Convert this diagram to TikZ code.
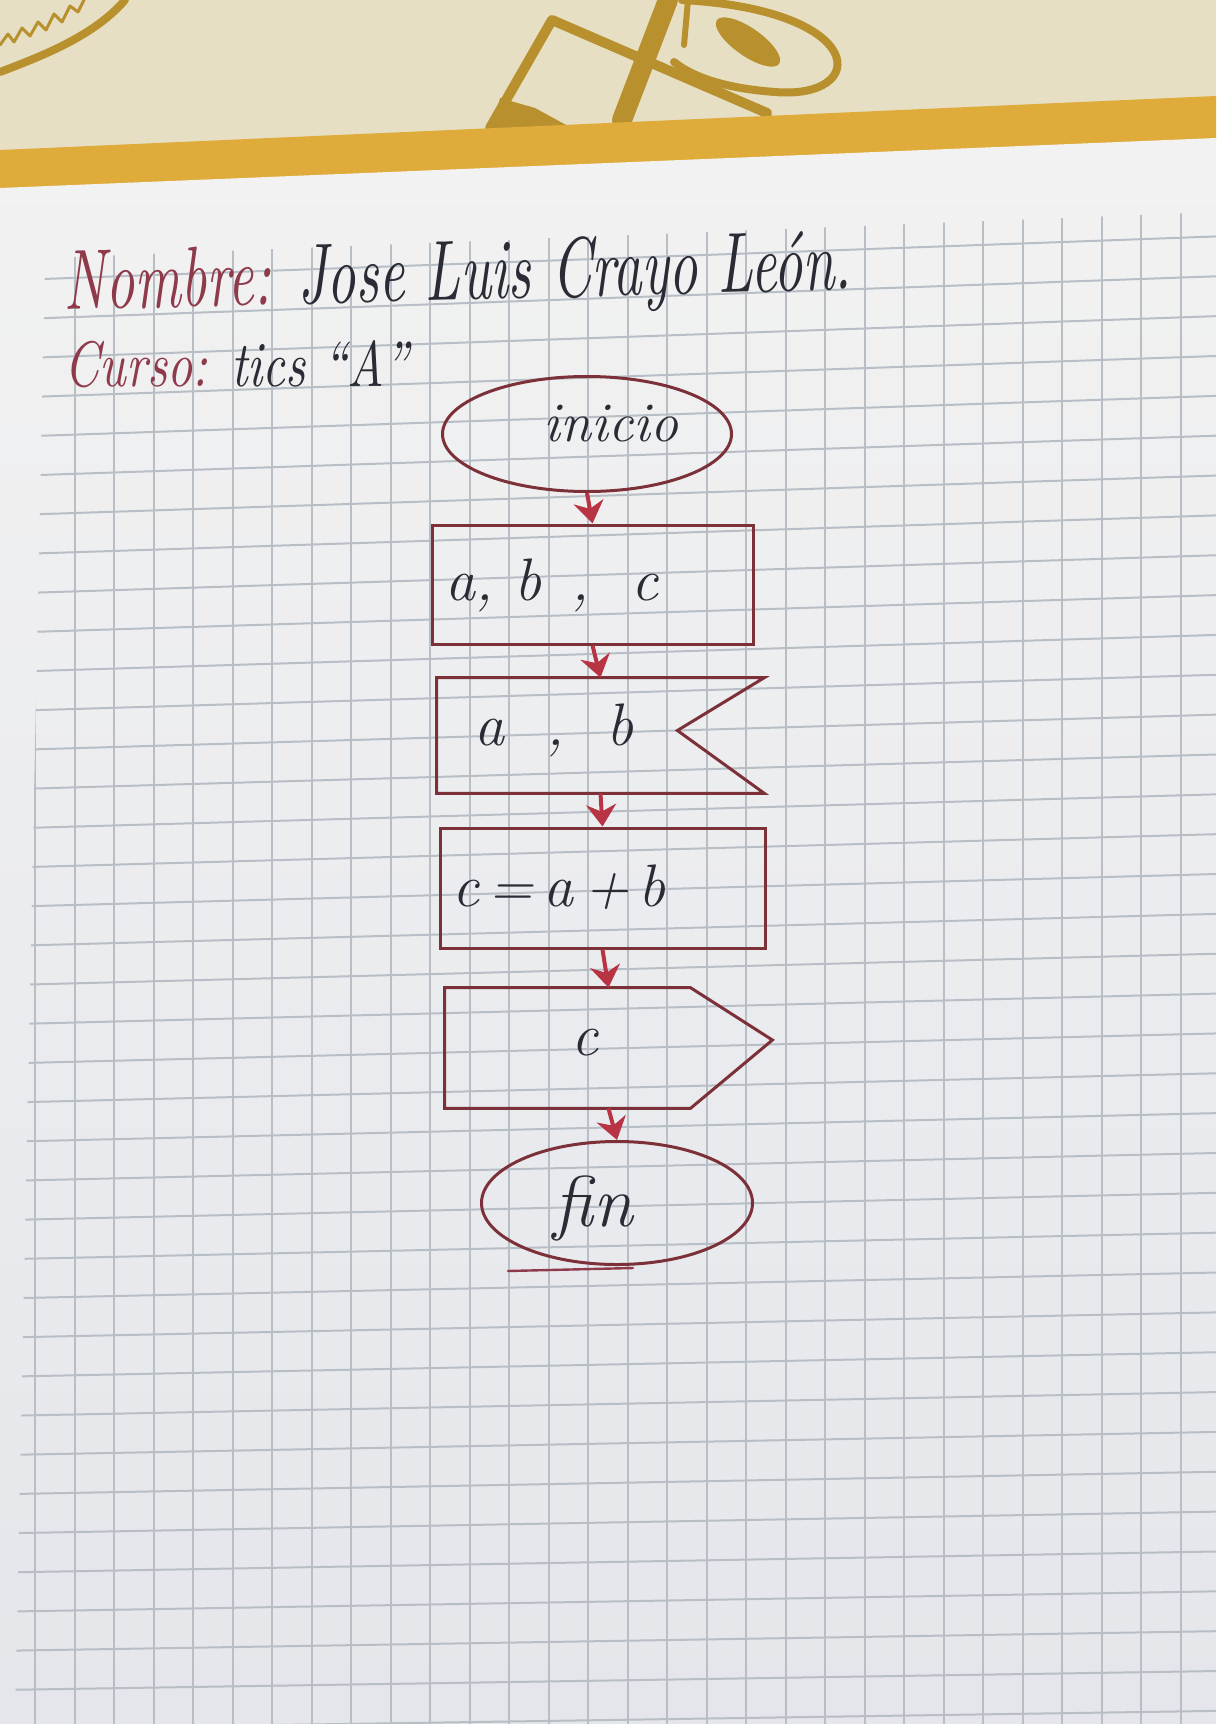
\documentclass[tikz,border=0pt]{standalone}
\usetikzlibrary{shapes.geometric,arrows.meta,calc}
\definecolor{cloth}{HTML}{E6DFC3}
\definecolor{band}{HTML}{DFAB3B}
\definecolor{gold}{HTML}{B8912E}
\definecolor{paperlow}{HTML}{E4E6EB}
\definecolor{papertop}{HTML}{F2F2F2}
\definecolor{gridc}{HTML}{B7BEC6}
\definecolor{ink}{HTML}{7C3038}
\definecolor{arrowc}{HTML}{B83444}
\definecolor{pen}{HTML}{2B2B36}
\definecolor{redpen}{HTML}{8E3A4A}
\begin{document}
\begin{tikzpicture}[x=0.5pt,y=-0.5pt,
  shapeline/.style={draw=ink, line width=1.5pt},
  flowarrow/.style={draw=arrowc, line width=2pt, -{Stealth[length=11pt,width=15pt]}},
  gridline/.style={draw=gridc, line width=1pt},
  goldline/.style={draw=gold, line cap=round, line join=round},
  handtext/.style={text=pen, font=\itshape\fontsize{30}{32}\selectfont, inner sep=0pt},
  headtext/.style={inner sep=0pt, anchor=base west, font=\itshape},
  emptybox/.style={minimum width=#1, inner sep=0pt}]
\useasboundingbox (0,0) rectangle (1216,1724);
% cloth background
\fill[cloth] (0,0) rectangle (1216,1724);
% cloth pattern
\draw[goldline, line width=4pt] (0,72) .. controls (45,55) and (95,35) .. (125,0);
\draw[goldline, line width=1.5pt] (0,45) -- (8,34) -- (14,42) -- (22,28) -- (30,36) -- (38,22) -- (46,30) -- (54,14) -- (62,22) -- (70,6) -- (78,12) -- (84,0);
\draw[goldline, line width=5pt] (490,128) -- (552,20) -- (767,113);
\draw[goldline, line width=10pt] (622,120) -- (668,0);
\draw[goldline, line width=4pt] (682,0) .. controls (870,10) and (870,100) .. (775,92) .. controls (720,88) and (690,75) .. (674,62);
\draw[goldline, line width=3pt] (688,0) -- (684,45);
\fill[gold, rotate around={-35:(748,42)}] (748,42) ellipse (38 and 14);
\fill[gold] (500,98) -- (535,108) -- (568,126) -- (492,132) -- cycle;
% gold band
\fill[band] (0,150) -- (1216,96) -- (1216,140) -- (0,190) -- cycle;
% paper
\shade[top color=papertop, bottom color=paperlow] (0,188) -- (1216,138) -- (1216,1724) -- (0,1724) -- cycle;
% grid
\begin{scope}
  \clip (45,258) -- (1216,212) -- (1216,1724) -- (15,1724) -- cycle;
  \foreach \i in {0,...,32} \draw[gridline] ({-4.5+39.5*\i},150) -- ({-4.5+39.5*\i},1724);
  \foreach \j in {0,...,42} {
    \pgfmathsetmacro\sl{0.038-0.023*\j/40}
    \draw[gridline] (0,{140+39.5*\j+\sl*608}) -- (1216,{140+39.5*\j-\sl*608});
  }
\end{scope}
% header
\node[headtext, rotate=1.5] (nombre) at (64,310) {\resizebox{394pt}{30pt}{\textcolor{redpen}{Nombre:} \textcolor{pen}{Jose Luis Crayo León.}}};
\node[headtext] (curso) at (64,386) {\resizebox{172pt}{23pt}{\textcolor{redpen}{Curso:} \textcolor{pen}{tics ``A''}}};
% flowchart shapes
\node[ellipse, shapeline, minimum width=144.5pt, minimum height=57.5pt, inner sep=0pt] (inicio) at (587,434) {};
\node[rectangle, shapeline, minimum width=160.5pt, minimum height=59.5pt, inner sep=0pt] (datos) at (592.5,584.5) {};
\node[emptybox=163.5pt, minimum height=57.5pt] (leer) at (600.5,735.5) {};
\draw[shapeline] (leer.north east) -- (leer.north west) -- (leer.south west) -- (leer.south east) -- ($(leer.east)+(-87,-5)$) -- cycle;
\node[rectangle, shapeline, minimum width=162.5pt, minimum height=60pt, inner sep=0pt] (proc) at (602.5,888) {};
\node[emptybox=163.5pt, minimum height=60pt] (salida) at (608.5,1048) {};
\draw[shapeline] (salida.north west) -- ($(salida.north east)+(-82,0)$) -- ($(salida.east)+(0,-8)$) -- ($(salida.south east)+(-82,0)$) -- (salida.south west) -- cycle;
\node[ellipse, shapeline, minimum width=135.5pt, minimum height=61.5pt, inner sep=0pt] (fin) at (617,1203) {};
\draw[draw=redpen, line width=1.2pt, line cap=round] (508,1271) -- (633,1268);
% texts
\node[handtext, font=\itshape\fontsize{28}{30}\selectfont] (tinicio) at (611,424) {inicio};
\node[handtext] (tdatos) at (552,585) {a,\ b \,, \ c};
\node[handtext] (tleer) at (554,730) {a \ , \ b};
\node[handtext] (tproc) at (559,887) {c\,=\,a\,+\,b};
\node[handtext] (tsalida) at (585,1043) {c};
\node[handtext, font=\itshape\fontsize{36}{38}\selectfont] (tfin) at (593,1208) {fin};
% connectors
\draw[flowarrow] (inicio.south) -- (datos.north);
\draw[flowarrow] (datos.south) -- (leer.north);
\draw[flowarrow] (leer.south) -- (proc.north);
\draw[flowarrow] (proc.south) -- (salida.north);
\draw[flowarrow] (salida.south) -- (fin.north);
\end{tikzpicture}
\end{document}
